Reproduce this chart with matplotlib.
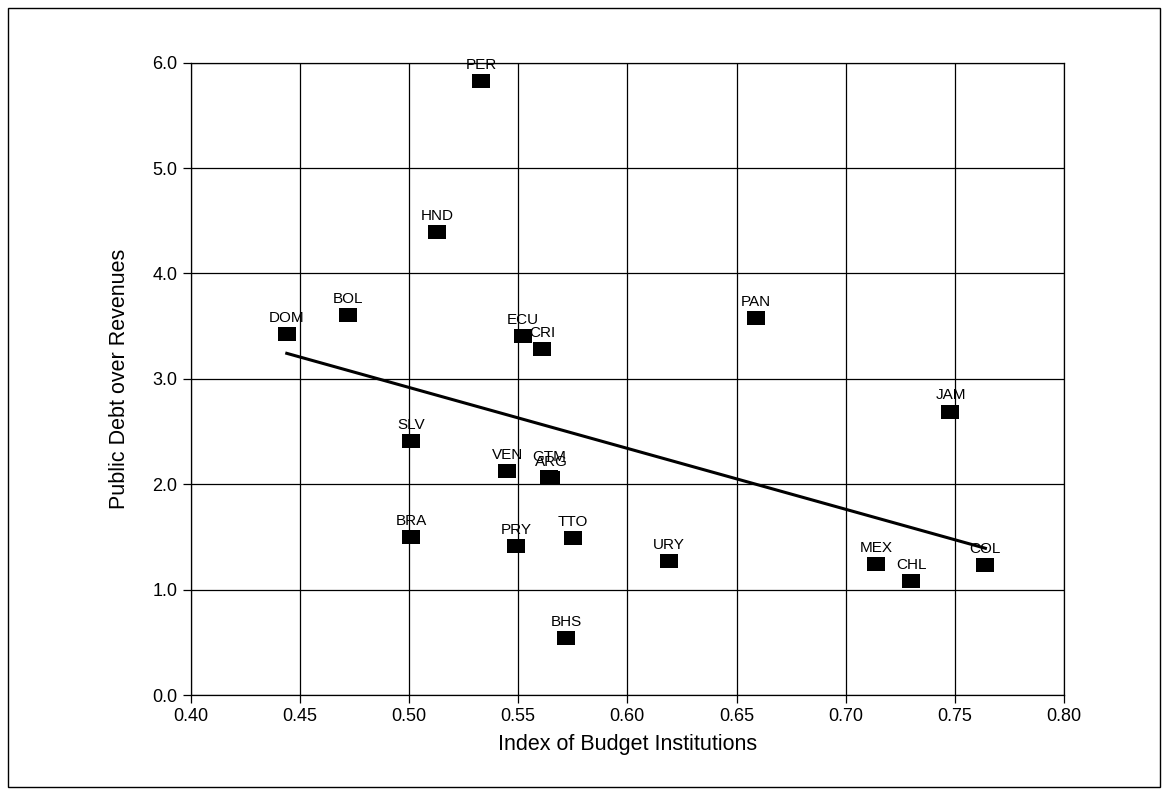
import numpy as np
import matplotlib
matplotlib.use("Agg")
import matplotlib.pyplot as plt
from matplotlib.patches import Rectangle

plt.rcParams['font.family'] = ['Liberation Sans', 'DejaVu Sans']

countries = ["PER", "HND", "BOL", "DOM", "ECU", "CRI", "PAN", "JAM", "SLV", "VEN",
             "GTM", "ARG", "BRA", "PRY", "TTO", "URY", "MEX", "CHL", "COL", "BHS"]
index_bi = [0.533, 0.513, 0.472, 0.444, 0.552, 0.561, 0.659, 0.748, 0.501, 0.545,
            0.564, 0.565, 0.501, 0.549, 0.575, 0.619, 0.714, 0.730, 0.764, 0.572]
debt_rev = [5.83, 4.39, 3.61, 3.43, 3.41, 3.28, 3.58, 2.69, 2.41, 2.13,
            2.07, 2.06, 1.50, 1.41, 1.49, 1.27, 1.24, 1.08, 1.23, 0.54]

xticks = [0.40, 0.45, 0.50, 0.55, 0.60, 0.65, 0.70, 0.75, 0.80]
yticks = [0.0, 1.0, 2.0, 3.0, 4.0, 5.0, 6.0]

fig = plt.figure(figsize=(11.69, 7.95), dpi=100)
ax = fig.add_axes([190.7/1169, 1-695/795, (1064-190.7)/1169, (695-62.7)/795])

x = np.array(index_bi)
y = np.array(debt_rev)

marker = [(-1.3, -1), (1.3, -1), (1.3, 1), (-1.3, 1), (-1.3, -1)]
ax.scatter(x, y, marker=marker, s=150, color='black', zorder=3, linewidths=0)

for c, xi, yi in zip(countries, x, y):
    dy = 9 if c == "GTM" else 6.5
    ax.annotate(c, (xi, yi), xytext=(0, dy), textcoords='offset points',
                ha='center', va='bottom', fontsize=11, color='black', zorder=4)

# OLS trend line
b, a = np.polyfit(x, y, 1)
xl = np.array([x.min(), x.max()])
ax.plot(xl, a + b*xl, color='black', lw=2.2, zorder=2)

ax.set_xlim(0.40, 0.80)
ax.set_ylim(0.0, 6.0)
ax.set_xticks(xticks)
ax.set_xticklabels([f"{t:.2f}" for t in xticks], fontsize=13)
ax.set_yticks(yticks)
ax.set_yticklabels([f"{t:.1f}" for t in yticks], fontsize=13)
ax.grid(True, color='black', lw=0.9)
ax.set_axisbelow(True)
for s in ax.spines.values():
    s.set_linewidth(0.9)
ax.tick_params(direction='out', length=6, width=0.9, colors='black')
ax.set_xlabel("Index of Budget Institutions", fontsize=15.5, labelpad=6)
ax.set_ylabel("Public Debt over Revenues", fontsize=15.5, labelpad=16)

fig.patches.append(Rectangle((8/1169, 1-787/795), (1160-8)/1169, (787-8)/795,
                             transform=fig.transFigure, fill=False, ec='black', lw=1.0))

fig.savefig("out.png", dpi=100)
